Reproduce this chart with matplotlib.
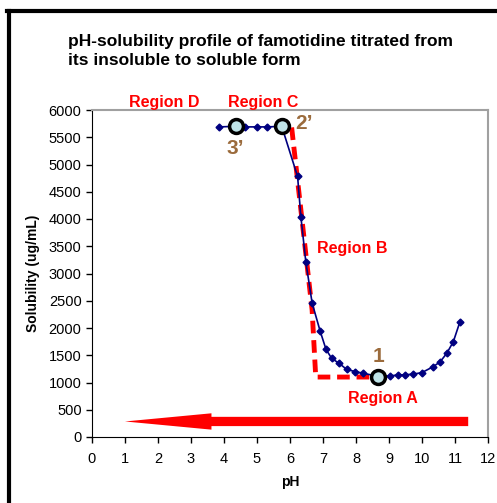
import matplotlib
matplotlib.use('Agg')
import matplotlib.pyplot as plt
from matplotlib.lines import Line2D
from matplotlib.patches import FancyArrow

plt.rcParams['font.family'] = ['Liberation Sans', 'DejaVu Sans']

# titration data: pH vs solubility (ug/mL)
ph = [3.85, 4.35, 4.65, 5.0, 5.3, 5.75, 6.23, 6.33, 6.48, 6.67, 6.91, 7.09,
      7.26, 7.49, 7.72, 7.97, 8.22, 8.68, 9.03, 9.28, 9.48, 9.74, 9.99,
      10.34, 10.55, 10.75, 10.95, 11.15]
sol = [5690, 5700, 5690, 5690, 5690, 5700, 4780, 4040, 3210, 2460, 1950, 1610,
       1445, 1350, 1240, 1200, 1170, 1110, 1120, 1140, 1140, 1155, 1180,
       1290, 1380, 1535, 1750, 2115]

# highlighted points 3', 2', 1
key_ph = [4.35, 5.75, 8.68]
key_sol = [5700, 5700, 1110]
key_lbl = ["3\u2019", "2\u2019", "1"]

# idealised profile (dashed)
ideal_ph = [6.05, 6.67, 6.78, 8.72]
ideal_sol = [5680, 2330, 1100, 1100]

regions = ["Region D", "Region C", "Region B", "Region A"]
region_pos = [(2.2, 6130), (5.2, 6130), (7.9, 3450), (8.8, 700)]

W, H = 497, 503
fig = plt.figure(figsize=(W / 100, H / 100), dpi=100)
ax = fig.add_axes([92 / W, 1 - 437 / H, 396 / W, 327 / H])

ax.plot(ideal_ph, ideal_sol, color='red', lw=3.5, ls=(0, (2.6, 1.4)), zorder=2)
ax.plot(ph, sol, color='#000080', lw=1.2, marker='D', ms=3.5, zorder=3)
ax.plot(key_ph, key_sol, ls='none', marker='o', ms=10, mfc='#bfe4e8',
        mec='black', mew=2.5, zorder=4)

brown = '#9b6b3c'
ax.text(key_ph[0], key_sol[0] - 230, key_lbl[0], color=brown, fontsize=15,
        fontweight='bold', ha='center', va='top')
ax.text(key_ph[1] + 0.4, key_sol[1] + 50, key_lbl[1], color=brown, fontsize=15,
        fontweight='bold', ha='left', va='center')
ax.text(key_ph[2], key_sol[2] + 200, key_lbl[2], color=brown, fontsize=15,
        fontweight='bold', ha='center', va='bottom')

for name, (x, y) in zip(regions, region_pos):
    ax.text(x, y, name, color='red', fontsize=11.5, fontweight='bold',
            ha='center', va='center', clip_on=False)

ax.add_patch(FancyArrow(11.4, 285, -10.4, 0, width=170, head_width=300,
                        head_length=2.62, length_includes_head=True,
                        color='red', lw=0, zorder=1))

ax.set_xlim(0, 12)
ax.set_ylim(0, 6000)
ax.set_xticks(range(0, 13))
ax.set_yticks(range(0, 6001, 500))
ax.tick_params(labelsize=10.5, length=4, width=1, direction='out', colors='black')
ax.tick_params(axis='x', pad=7)
ax.set_xlabel('pH', fontsize=10, fontweight='bold', labelpad=6)
ax.set_ylabel('Solubility (ug/mL)', fontsize=10, fontweight='bold', labelpad=6)
for s in ('top', 'right'):
    ax.spines[s].set_color('#a0a0a0')
    ax.spines[s].set_linewidth(1.5)

fig.text(68 / W, 1 - 51 / H, 'pH-solubility profile of famotidine titrated from\nits insoluble to soluble form',
         fontsize=12.5, fontweight='bold', va='center', ha='left', linespacing=1.4)

# outer frame (left and top edges visible)
fig.add_artist(Line2D([8.5 / W, 8.5 / W], [0, 1 - 11 / H], color='black', lw=3,
                      transform=fig.transFigure))
fig.add_artist(Line2D([7 / W, 1], [1 - 11 / H, 1 - 11 / H], color='black', lw=3,
                      transform=fig.transFigure))

fig.savefig('out.png', dpi=100)
